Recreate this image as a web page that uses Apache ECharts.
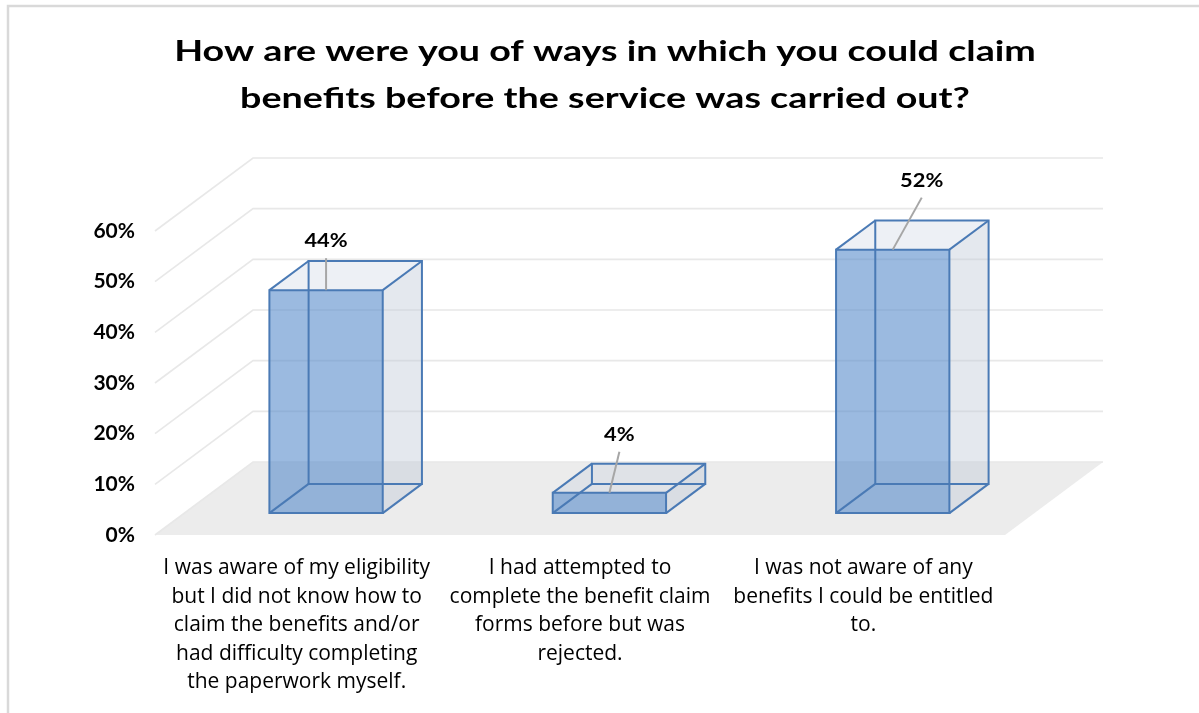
<!DOCTYPE html>
<html>
<head>
<meta charset="utf-8">
<title>Awareness of benefit claims</title>
<script src="https://cdn.jsdelivr.net/npm/echarts@6/dist/echarts.min.js"></script>
<style>
  html, body { margin: 0; padding: 0; background: #ffffff; }
  #chart { width: 1199px; height: 713px; }
</style>
</head>
<body>
<div id="chart"></div>
<script>
// ---- data ----
const titleText = 'How are were you of ways in which you could claim\nbenefits before the service was carried out?';
const categories = [
  'I was aware of my eligibility\nbut I did not know how to\nclaim the benefits and/or\nhad difficulty completing\nthe paperwork myself.',
  'I had attempted to\ncomplete the benefit claim\nforms before but was\nrejected.',
  'I was not aware of any\nbenefits I could be entitled\nto.'
];
const shares = [0.44, 0.04, 0.52];
const axisTicks = [0, 0.1, 0.2, 0.3, 0.4, 0.5, 0.6];

// ---- 3D projection settings ----
const DEPTH_X = 98;          // horizontal shift from front to back wall (px)
const DEPTH_Y = 73;          // vertical shift from front to back wall (px)
const BAR_FRONT = 0.3;       // bar front face position within depth
const BAR_BACK = 0.7;        // bar back face position within depth
const BAR_WIDTH = 0.4;       // bar width as share of the category band
const EDGE = '#4A7AB5';
// where each value label sits relative to the bar's front-top centre
const labelNudge = [[0, -49], [10, -58], [29, -69]];

const pct = v => Math.round(v * 100) + '%';
const FONT = 'Lato, "Open Sans", sans-serif';
const LABEL_FONT = '"Open Sans", Lato, sans-serif';

const chart = echarts.init(document.getElementById('chart'), null, { renderer: 'canvas' });

function renderFloor(params, api) {
  const cs = params.coordSys;
  const y0 = api.coord([0, 0])[1];
  const x0 = cs.x, x1 = cs.x + cs.width;
  return {
    type: 'polygon',
    shape: { points: [[x0, y0], [x1, y0], [x1 + DEPTH_X, y0 - DEPTH_Y], [x0 + DEPTH_X, y0 - DEPTH_Y]] },
    style: { fill: '#ECECEC' },
    silent: true
  };
}

function renderWall(params, api) {
  const cs = params.coordSys;
  const y = api.coord([0, api.value(0)])[1];
  const x0 = cs.x, x1 = cs.x + cs.width;
  return {
    type: 'polyline',
    shape: { points: [[x0, y], [x0 + DEPTH_X, y - DEPTH_Y], [x1 + DEPTH_X, y - DEPTH_Y]] },
    style: { stroke: '#E8E8E8', lineWidth: 1.6, fill: null },
    silent: true
  };
}

function renderBar(params, api) {
  const idx = api.value(0);
  const base = api.coord([idx, 0]);
  const top = api.coord([idx, api.value(1)]);
  const band = api.size([1, 0])[0];
  const half = band * BAR_WIDTH / 2;
  const fx = DEPTH_X * BAR_FRONT, fy = DEPTH_Y * BAR_FRONT;
  const dx = DEPTH_X * (BAR_BACK - BAR_FRONT), dy = DEPTH_Y * (BAR_BACK - BAR_FRONT);
  const xl = base[0] - half + fx, xr = base[0] + half + fx;
  const yb = base[1] - fy, yt = top[1] - fy;

  const P = (x, y) => [x, y];
  const fBL = P(xl, yb), fBR = P(xr, yb), fTR = P(xr, yt), fTL = P(xl, yt);
  const bBL = P(xl + dx, yb - dy), bBR = P(xr + dx, yb - dy), bTR = P(xr + dx, yt - dy), bTL = P(xl + dx, yt - dy);

  const edge = (a, b) => ({
    type: 'line', shape: { x1: a[0], y1: a[1], x2: b[0], y2: b[1] },
    style: { stroke: EDGE, lineWidth: 2 }
  });

  return {
    type: 'group',
    children: [
      { type: 'polygon', shape: { points: [fBR, fTR, bTR, bBR] }, style: { fill: 'rgba(195,204,217,0.45)' } },
      { type: 'polygon', shape: { points: [fTL, fTR, bTR, bTL] }, style: { fill: 'rgba(190,200,220,0.28)' } },
      { type: 'polygon', shape: { points: [fBL, fBR, fTR, fTL] }, style: { fill: 'rgba(88,140,203,0.6)' } },
      { type: 'polygon', shape: { points: [bBL, bBR, bTR, bTL] }, style: { fill: null, stroke: EDGE, lineWidth: 2 } },
      edge(fBL, bBL), edge(fBR, bBR), edge(fTL, bTL), edge(fTR, bTR),
      { type: 'polygon', shape: { points: [fBL, fBR, fTR, fTL] }, style: { fill: null, stroke: EDGE, lineWidth: 2 } }
    ]
  };
}

function renderLabel(params, api) {
  const idx = api.value(0);
  const v = api.value(1);
  const top = api.coord([idx, v]);
  const ax = top[0] + DEPTH_X * BAR_FRONT;
  const ay = top[1] - DEPTH_Y * BAR_FRONT;
  const n = labelNudge[idx];
  const lx = ax + n[0], ly = ay + n[1];
  return {
    type: 'group',
    children: [
      { type: 'line', shape: { x1: lx, y1: ly + 17, x2: ax, y2: ay }, style: { stroke: '#A6A6A6', lineWidth: 2 } },
      { type: 'text', x: lx, y: ly, scaleX: 1.12, style: {
          text: pct(v), fill: '#000000', font: 'bold 19.5px ' + FONT,
          align: 'center', verticalAlign: 'middle'
      } }
    ]
  };
}

const option = {
  backgroundColor: '#ffffff',
  animation: false,
  graphic: [
    {
      type: 'rect', z: -10, silent: true,
      shape: { x: 8, y: 6, width: 1400, height: 900 },
      style: { fill: null, stroke: '#D9D9D9', lineWidth: 2.5 }
    },
    {
      // chart title, widened to the heading's proportions
      type: 'text', x: 605, y: 28.5, scaleX: 1.345, silent: true,
      style: {
        text: titleText, fill: '#000000',
        font: 'bold 28px ' + FONT, lineHeight: 47,
        align: 'center', verticalAlign: 'top'
      }
    }
  ],
  grid: { left: 155, right: 194, top: 231, bottom: 178 },
  xAxis: {
    type: 'category',
    data: categories,
    axisLine: { show: false },
    axisTick: { show: false },
    axisLabel: {
      interval: 0, margin: 19, color: '#000000',
      fontFamily: LABEL_FONT, fontSize: 21, lineHeight: 28.5
    }
  },
  yAxis: {
    type: 'value', min: 0, max: 0.6, interval: 0.1,
    axisLine: { show: false }, axisTick: { show: false }, splitLine: { show: false },
    axisLabel: { formatter: pct, margin: 20, color: '#000000', fontFamily: FONT, fontWeight: 'bold', fontSize: 21 }
  },
  series: [
    { type: 'custom', name: 'floor', z: 1, renderItem: renderFloor, data: [[0]], silent: true },
    { type: 'custom', name: 'walls', z: 2, renderItem: renderWall,
      data: axisTicks.map(t => [t]), encode: { y: 0 }, silent: true },
    { type: 'custom', name: 'bars', z: 3, renderItem: renderBar,
      data: shares.map((v, i) => [i, v]), encode: { x: 0, y: 1 } },
    { type: 'custom', name: 'labels', z: 4, renderItem: renderLabel,
      data: shares.map((v, i) => [i, v]), encode: { x: 0, y: 1 }, silent: true }
  ]
};
chart.setOption(option);
</script>
</body>
</html>
